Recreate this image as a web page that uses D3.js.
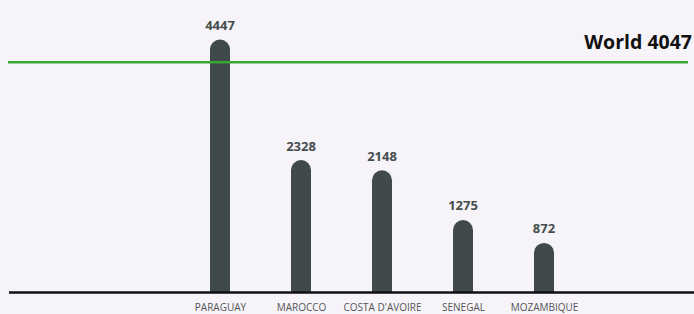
<!DOCTYPE html>
<html>
<head>
<meta charset="utf-8">
<script src="https://cdn.jsdelivr.net/npm/d3@7"></script>
<style>
  html, body { margin: 0; padding: 0; background: #f7f4f9; }
  svg { display: block; }
</style>
</head>
<body>
<svg id="chart" width="694" height="314"></svg>
<script>
const categories = ["PARAGUAY", "MAROCCO", "COSTA D'AVOIRE", "SENEGAL", "MOZAMBIQUE"];
const values = [4447, 2328, 2148, 1275, 872];
const worldLabel = "World";
const worldValue = 4047;

const W = 694, H = 314;
const baseY = 292.5;
const svg = d3.select("#chart");

svg.append("rect").attr("width", W).attr("height", H).attr("fill", "#f7f4f9");

const x = d3.scalePoint().domain(categories).range([220, 544]);
const y = d3.scaleLinear().domain([0, d3.max(values)]).range([baseY, 39.5]);

const barW = 20, r = 10;
const data = categories.map((c, i) => ({ c, v: values[i] }));

function barPath(d) {
  const cx = x(d.c), top = y(d.v);
  const x0 = cx - barW / 2, x1 = cx + barW / 2;
  return `M${x0},${baseY} L${x0},${top + r} A${r},${r} 0 0 1 ${x1},${top + r} L${x1},${baseY} Z`;
}

svg.selectAll("path.bar").data(data).join("path")
  .attr("class", "bar")
  .attr("d", barPath)
  .attr("fill", "#404a4a");

svg.selectAll("text.val").data(data).join("text")
  .attr("class", "val")
  .attr("x", d => x(d.c))
  .attr("y", d => y(d.v) - 9.5)
  .attr("text-anchor", "middle")
  .attr("font-family", "Open Sans")
  .attr("font-weight", "bold")
  .attr("font-size", 13)
  .attr("fill", "#454d4d")
  .text(d => d.v);

// World reference line
const wy = y(worldValue);
svg.append("line")
  .attr("x1", 8).attr("x2", 688)
  .attr("y1", wy).attr("y2", wy)
  .attr("stroke", "#3aa63a").attr("stroke-width", 2.5);
svg.append("text")
  .attr("x", 692).attr("y", wy - 13)
  .attr("text-anchor", "end")
  .attr("font-family", "Open Sans")
  .attr("font-weight", "bold")
  .attr("font-size", 19.5)
  .attr("fill", "#111")
  .text(worldLabel + " " + worldValue);

// category axis
const xAxis = d3.axisBottom(x).tickSize(0).tickPadding(11);
const ax = svg.append("g").attr("transform", `translate(0,${baseY})`).call(xAxis);
ax.select(".domain").remove();
ax.selectAll("text")
  .attr("font-family", "Open Sans")
  .attr("font-size", 10)
  .attr("fill", "#555");

svg.append("line")
  .attr("x1", 9).attr("x2", 694)
  .attr("y1", baseY).attr("y2", baseY)
  .attr("stroke", "#111").attr("stroke-width", 2.6);
</script>
</body>
</html>
